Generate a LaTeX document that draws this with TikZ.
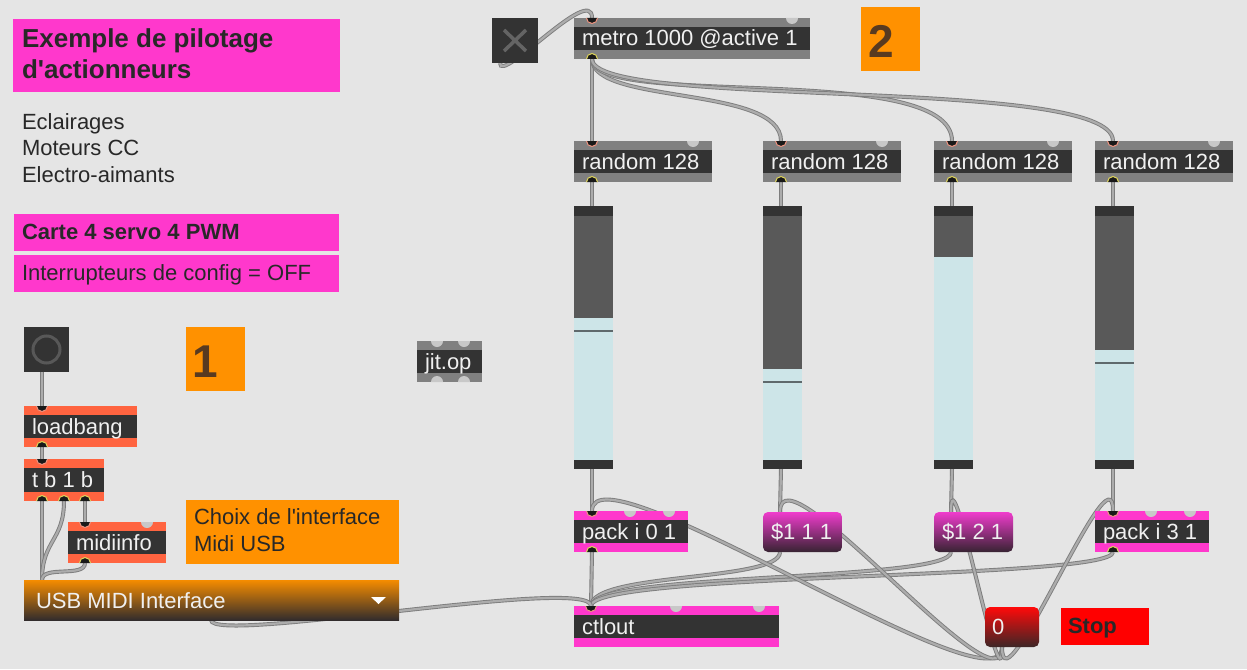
\documentclass[tikz,border=0pt]{standalone}
\usepackage{fontspec}
\setmainfont{Liberation Sans}
\usetikzlibrary{calc}
\pgfdeclarelayer{bglayer}
\pgfdeclarelayer{cablelayer}
\pgfsetlayers{bglayer,cablelayer,main}
\definecolor{bg}{RGB}{229,229,229}
\definecolor{pinkc}{RGB}{255,56,204}
\definecolor{orangec}{RGB}{255,145,0}
\definecolor{txtdark}{RGB}{40,40,40}
\definecolor{objband}{RGB}{128,128,128}
\definecolor{objbody}{RGB}{51,51,51}
\definecolor{lbband}{RGB}{255,100,64}
\definecolor{objtxt}{RGB}{240,240,240}
\definecolor{hotring}{RGB}{240,150,130}
\definecolor{outring}{RGB}{225,215,90}
\definecolor{portdark}{RGB}{25,25,25}
\definecolor{coldport}{RGB}{200,200,200}
\definecolor{cabedge}{RGB}{125,125,125}
\definecolor{cabfill}{RGB}{172,172,172}
\definecolor{slcap}{RGB}{51,51,51}
\definecolor{sldark}{RGB}{89,89,89}
\definecolor{sllight}{RGB}{205,229,232}
\definecolor{slknob}{RGB}{95,105,108}
\definecolor{numtxt}{RGB}{88,58,32}
\definecolor{redc}{RGB}{255,0,0}
\definecolor{msgtop}{RGB}{240,60,205}
\definecolor{msgbot}{RGB}{55,35,50}
\definecolor{zerotop}{RGB}{255,10,10}
\definecolor{zerobot}{RGB}{60,38,38}
\definecolor{umtop}{RGB}{245,140,0}
\definecolor{umbot}{RGB}{50,44,44}
\definecolor{xgray}{RGB}{100,100,100}
\definecolor{ringgray}{RGB}{88,88,88}
\newcommand\cfont{\fontsize{22}{26.5}\selectfont}
\newcommand\lbx[2]{\makebox[#1pt][l]{#2}}
\newcommand\hotin[2]{%
  \fill[portdark] ($(#1.north west)+(#2-5.5,0)$) arc[start angle=180,end angle=360,radius=5.5pt] -- cycle;
  \draw[hotring,line width=1pt] ($(#1.north west)+(#2-5.5,0)$) arc[start angle=180,end angle=360,radius=5.5pt];}
\newcommand\coldin[2]{%
  \fill[coldport] ($(#1.north west)+(#2-6,0)$) arc[start angle=180,end angle=360,radius=6pt] -- cycle;}
\newcommand\outlt[2]{%
  \fill[portdark] ($(#1.south west)+(#2-5.5,0)$) arc[start angle=180,end angle=0,radius=5.5pt] -- cycle;
  \draw[outring,line width=1pt] ($(#1.south west)+(#2-5.5,0)$) arc[start angle=180,end angle=0,radius=5.5pt];}
\newcommand\coldout[2]{%
  \fill[coldport] ($(#1.south west)+(#2-6,0)$) arc[start angle=180,end angle=0,radius=6pt] -- cycle;}
\tikzset{
  box/.style={anchor=north west, inner sep=0pt, outer sep=0pt},
  ctext/.style={anchor=base west, inner sep=0pt, outer sep=0pt, text=txtdark},
  ofont/.style={font=\cfont, text=objtxt},
  mobj/.style={box, ofont, inner xsep=8pt, minimum height=41pt, text height=18pt, text depth=3pt, fill=#1,
    path picture={\fill[objbody] ([yshift=-9pt]path picture bounding box.north west) rectangle ([yshift=9pt]path picture bounding box.south east);}},
  msgbox/.style={box, ofont, inner xsep=8pt, minimum height=40pt, text height=17pt, text depth=3pt, rounded corners=5pt},
  sliderbox/.style={box, fill=sllight, minimum width=39pt, minimum height=263pt},
  cable/.style={draw=cabedge, line width=0.9pt, double=cabfill, double distance=2.2pt},
  xmark/.style={draw=xgray, line width=3.5pt},
  btnring/.style={draw=ringgray, line width=3pt},
}
\begin{document}
\begin{tikzpicture}[x=1pt,y=-1pt]
\begin{pgfonlayer}{bglayer}
\fill[bg] (0,0) rectangle (1247,669);
\end{pgfonlayer}
\useasboundingbox (0,0) rectangle (1247,669);

% ---------- comments ----------
\node[box, fill=pinkc, minimum width=327pt, minimum height=73pt] (title) at (13,19) {};
\node[ctext, font=\fontsize{26}{31}\selectfont\bfseries, align=left] (titlet) at ($(title.north west)+(9,59)$) {Exemple de pilotage\\d\textquotesingle actionneurs};
\node[ctext, font=\cfont, align=left] (eclair) at (22,182) {Eclairages\\Moteurs CC\\Electro-aimants};
\node[box, fill=pinkc, minimum width=325pt, minimum height=37pt] (carte) at (14,214) {};
\node[ctext, font=\cfont\bfseries] (cartet) at ($(carte.north west)+(8,25)$) {Carte 4 servo 4 PWM};
\node[box, fill=pinkc, minimum width=325pt, minimum height=37pt] (inter) at (14,255) {};
\node[ctext, font=\cfont] (intert) at ($(inter.north west)+(8,25)$) {Interrupteurs de config = OFF};
\node[box, fill=orangec, minimum width=213pt, minimum height=64pt] (choix) at (186,500) {};
\node[ctext, font=\fontsize{22}{27}\selectfont, align=left] (choixt) at ($(choix.north west)+(8,51)$) {Choix de l\textquotesingle interface\\Midi USB};
\node[box, fill=orangec, minimum width=59pt, minimum height=64pt] (num1) at (186,327) {};
\node[ctext, font=\fontsize{46}{46}\selectfont\bfseries, text=numtxt] (num1t) at ($(num1.north west)+(6,50)$) {1};
\node[box, fill=orangec, minimum width=59pt, minimum height=64pt] (num2) at (861,7) {};
\node[ctext, font=\fontsize{46}{46}\selectfont\bfseries, text=numtxt] (num2t) at ($(num2.north west)+(7,50)$) {2};
\node[box, fill=redc, minimum width=88pt, minimum height=37pt] (stop) at (1061,608) {};
\node[ctext, font=\cfont\bfseries] (stopt) at ($(stop.north west)+(7,25)$) {Stop};

% ---------- objects ----------
\node[box, fill=objbody, minimum width=46pt, minimum height=45pt] (tog) at (492,18) {};
\draw[xmark] ($(tog.center)+(-11,-10.5)$) -- ($(tog.center)+(11,10.5)$) ($(tog.center)+(11,-10.5)$) -- ($(tog.center)+(-11,10.5)$);
\node[mobj=objband] (metro) at (574,18) {\lbx{220}{metro 1000 @active 1}};
\node[mobj=objband] (r1) at (574,141) {\lbx{122}{random 128}};
\node[mobj=objband] (r2) at (763,141) {\lbx{122}{random 128}};
\node[mobj=objband] (r3) at (934,141) {\lbx{122}{random 128}};
\node[mobj=objband] (r4) at (1095,141) {\lbx{122}{random 128}};

% sliders
\foreach \s/\x/\d/\k in {s1/574/112/124, s2/763/163/175, s3/934/51/0, s4/1095/144/156}{
  \node[sliderbox] (\s) at (\x,206) {};
  \fill[slcap] (\s.north west) rectangle ++(39,10);
  \fill[slcap] (\s.south west) rectangle ++(39,-9);
  \fill[sldark] ($(\s.north west)+(0,10)$) rectangle ($(\s.north east)+(0,\d)$);
  \ifnum\k>0 \fill[slknob] ($(\s.north west)+(0,\k)$) rectangle ($(\s.north east)+(0,\k+2)$);\fi
}

\node[mobj=pinkc] (pack1) at (574,511) {\lbx{98}{pack i 0 1}};
\node[msgbox, top color=msgtop, bottom color=msgbot] (msg1) at (763,512) {\lbx{63}{\$1 1 1}};
\node[msgbox, top color=msgtop, bottom color=msgbot] (msg2) at (934,512) {\lbx{63}{\$1 2 1}};
\node[mobj=pinkc] (pack4) at (1095,511) {\lbx{98}{pack i 3 1}};
\node[mobj=pinkc] (ctl) at (574,606) {\lbx{189}{ctlout}};
\node[msgbox, top color=zerotop, bottom color=zerobot, inner xsep=7pt] (zero) at (985,607) {\lbx{40}{0}};
\node[mobj=objband] (jit) at (417,341) {\lbx{49}{jit.op}};

\node[box, fill=objbody, minimum width=45pt, minimum height=45pt] (btn) at (24,327) {};
\draw[btnring] (btn.center) circle[radius=13.5pt];
\node[mobj=lbband] (lb) at (24,406) {\lbx{97}{loadbang}};
\node[mobj=lbband, minimum height=42pt] (tb) at (24,459) {\lbx{64}{t b 1 b}};
\node[mobj=lbband] (midi) at (68,522) {\lbx{82}{midiinfo}};
\node[box, ofont, inner xsep=12pt, minimum height=40pt, text height=19pt, text depth=3pt, top color=umtop, bottom color=umbot] (umenu) at (24,580) {\lbx{351}{USB MIDI Interface}};
\fill[white] ($(umenu.north east)+(-28,17)$) -- ++(15,0) -- ++(-7.5,7) -- cycle;

% ---------- ports ----------
\hotin{metro}{18} \coldin{metro}{218} \outlt{metro}{18}
\foreach \r in {r1,r2,r3,r4}{\hotin{\r}{18} \coldin{\r}{119} \outlt{\r}{18}}
\foreach \p in {pack1,pack4}{\hotin{\p}{18} \coldin{\p}{56} \coldin{\p}{95} \outlt{\p}{18}}
\hotin{ctl}{17} \coldin{ctl}{102} \coldin{ctl}{185}
\coldin{jit}{20} \coldin{jit}{47} \coldout{jit}{20} \coldout{jit}{47}
\hotin{lb}{18} \outlt{lb}{18}
\hotin{tb}{18} \outlt{tb}{18} \outlt{tb}{40} \outlt{tb}{61}
\hotin{midi}{17} \coldin{midi}{79} \outlt{midi}{17}

\coordinate (tog-o) at ($(tog.south west)+(8,0)$);
\coordinate (metro-i) at ($(metro.north west)+(18,0)$);
\coordinate (metro-o) at ($(metro.south west)+(18,0)$);
\foreach \n in {r1,r2,r3,r4,s1,s2,s3,s4,pack1,pack4}{
  \coordinate (\n-i) at ($(\n.north west)+(18,0)$);
  \coordinate (\n-o) at ($(\n.south west)+(18,0)$);}
\foreach \n in {msg1,msg2,ctl,zero,midi}{
  \coordinate (\n-i) at ($(\n.north west)+(17,0)$);
  \coordinate (\n-o) at ($(\n.south west)+(17,0)$);}
\coordinate (umenu-i) at ($(umenu.north west)+(18,0)$);
\coordinate (umenu-o) at ($(umenu.south west)+(187,0)$);
\coordinate (btn-o) at ($(btn.south west)+(18,0)$);
\coordinate (lb-i) at ($(lb.north west)+(18,0)$);
\coordinate (lb-o) at ($(lb.south west)+(18,0)$);
\coordinate (tb-i) at ($(tb.north west)+(18,0)$);
\coordinate (tb-o1) at ($(tb.south west)+(18,0)$);
\coordinate (tb-o2) at ($(tb.south west)+(40,0)$);
\coordinate (tb-o3) at ($(tb.south west)+(61,0)$);

% ---------- cables (drawn behind the objects) ----------
\begin{pgfonlayer}{cablelayer}
\draw[cable] (tog-o) .. controls +(0,22) and +(0,-35) .. (metro-i);
\draw[cable] (metro-o) -- (r1-i);
\draw[cable] (metro-o) .. controls +(0,46) and +(0,-56) .. (r2-i);
\draw[cable] (metro-o) .. controls +(0,51) and +(0,-81) .. (r3-i);
\draw[cable] (metro-o) .. controls +(0,51) and +(0,-66) .. (r4-i);
\foreach \k in {1,2,3,4}{\draw[cable] (r\k-o) -- (s\k-i);}
\draw[cable] (s1-o) -- (pack1-i);
\draw[cable] (s2-o) -- (msg1-i);
\draw[cable] (s3-o) -- (msg2-i);
\draw[cable] (s4-o) -- (pack4-i);
\draw[cable] (pack1-o) -- (ctl-i);
\draw[cable] (msg1-o) .. controls +(0,30) and +(0,-34) .. (ctl-i);
\draw[cable] (msg2-o) .. controls +(0,30) and +(0,-34) .. (ctl-i);
\draw[cable] (pack4-o) .. controls +(0,28) and +(0,-34) .. (ctl-i);
\draw[cable] (umenu-o) .. controls +(0,25) and +(0,-31) .. (ctl-i);
\draw[cable] (btn-o) -- (lb-i);
\draw[cable] (lb-o) -- (tb-i);
\draw[cable] (tb-o1) -- (umenu-i);
\draw[cable] (tb-o2) .. controls +(0,40) and +(0,-40) .. (umenu-i);
\draw[cable] (tb-o3) -- (midi-i);
\draw[cable] (midi-o) .. controls +(0,15) and +(0,-15) .. (umenu-i);
\foreach \t in {pack1-i,msg1-i,msg2-i,pack4-i}{\draw[cable] (zero-o) .. controls +(0,70) and +(0,-70) .. (\t);}
\end{pgfonlayer}
\end{tikzpicture}
\end{document}
